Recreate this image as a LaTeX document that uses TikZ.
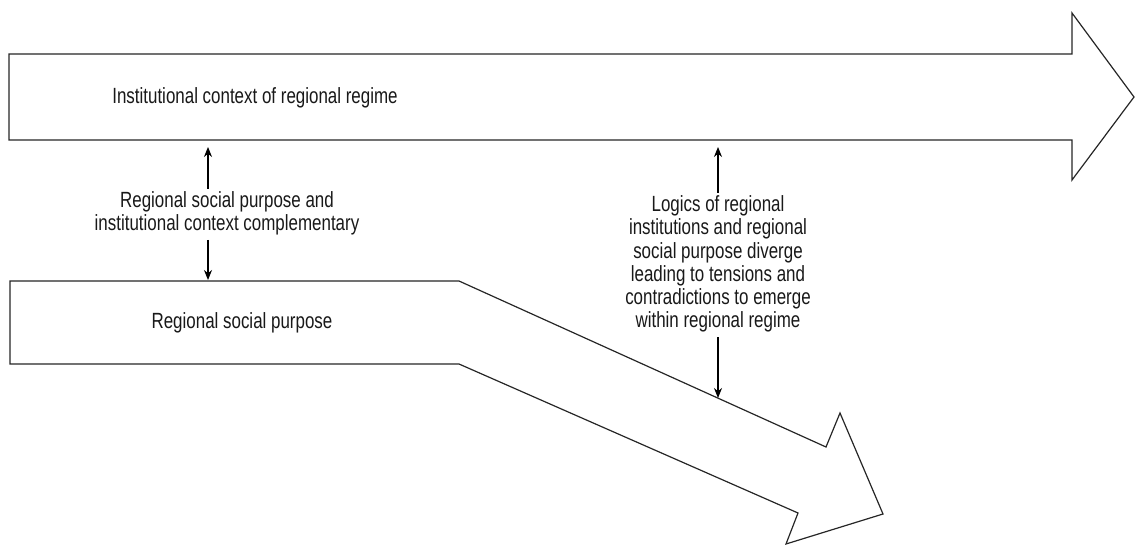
\documentclass[tikz,border=0pt]{standalone}
\usepackage{graphicx}
\usepackage{fontspec}
\setmainfont{Liberation Sans}
\usetikzlibrary{arrows.meta}
\newcommand{\sqz}[1]{\scalebox{0.77}[1]{#1}}
\begin{document}
\begin{tikzpicture}[x=1pt,y=-1pt,
  bigarrow/.style={draw=black!85,line width=1.2pt,fill=white,line join=miter},
  lbl/.style={inner sep=2pt,text=black!90,font=\fontsize{22}{23.3}\selectfont},
  conn/.style={line width=1.1pt,-{Stealth[length=10pt,width=8pt]}}]
\useasboundingbox (0,0) rectangle (1136,545);
% top arrow
\draw[bigarrow] (9,54) -- (1072,54) -- (1072,13) -- (1134,97) -- (1072,180) -- (1072,140) -- (9,140) -- cycle;
% bent arrow
\draw[bigarrow] (10,281) -- (459,281) -- (826,447) -- (840,413) -- (883,514) -- (786,544) -- (798,513) -- (459,364) -- (10,364) -- cycle;
\node[lbl] (n1) at (255,98) {\sqz{Institutional context of regional regime}};
\node[lbl] (n2) at (242,323) {\sqz{Regional social purpose}};
\node[lbl] (c1) at (227,214.5) {\sqz{\begin{tabular}{@{}c@{}}Regional social purpose and\\institutional context complementary\end{tabular}}};
\node[lbl] (c2) at (718,265) {\sqz{\begin{tabular}{@{}c@{}}Logics of regional\\institutions and regional\\social purpose diverge\\leading to tensions and\\contradictions to emerge\\within regional regime\end{tabular}}};
\coordinate (t1) at (208,147);
\coordinate (b1) at (208,280);
\coordinate (t2) at (718,147);
\coordinate (b2) at (718,398);
\draw[conn] (c1.north -| t1) -- (t1);
\draw[conn] (c1.south -| b1) -- (b1);
\draw[conn] (c2.north -| t2) -- (t2);
\draw[conn] (c2.south -| b2) -- (b2);
\end{tikzpicture}
\end{document}
